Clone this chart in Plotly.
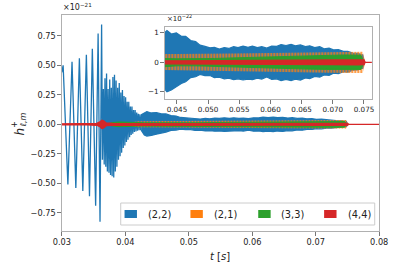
import plotly.graph_objects as go

# ---------------- data (strain in units of 1e-21) ----------------
# (2,2) early large cycles + messy merger part: alternating extremes
t22_osc = [0.03000, 0.03021, 0.03096, 0.03161, 0.03221, 0.03277, 0.03331, 0.03387,
           0.03436, 0.03481, 0.03533, 0.03572, 0.03602, 0.03627,
           0.03640, 0.03655, 0.03668, 0.03680, 0.03693, 0.03705, 0.03718, 0.03730,
           0.03743, 0.03755, 0.03768, 0.03780, 0.03793, 0.03805, 0.03818, 0.03830,
           0.03843, 0.03855, 0.03868, 0.03880, 0.03893, 0.03905, 0.03918, 0.03930,
           0.03943, 0.03955, 0.03968, 0.03980, 0.03993, 0.04005, 0.04018, 0.04030,
           0.04043, 0.04055, 0.04068, 0.04080, 0.04093, 0.04105, 0.04118, 0.04130,
           0.04143, 0.04155, 0.04168, 0.04180, 0.04193, 0.04205, 0.04218, 0.04230,
           0.04243, 0.04255]
h22_osc = [0.44, 0.50, -0.51, 0.53, -0.54, 0.56, -0.565, 0.59,
           -0.61, 0.64, -0.69, 0.77, -0.825, 0.845,
           -0.30, 0.30, -0.34, 0.39, -0.36, 0.43, -0.40, 0.30,
           -0.41, 0.38, -0.43, 0.31, -0.44, 0.40, -0.45, 0.42,
           -0.40, 0.37, -0.36, 0.31, -0.30, 0.35, -0.27, 0.27,
           -0.24, 0.29, -0.20, 0.24, -0.18, 0.23, -0.15, 0.19,
           -0.13, 0.19, -0.11, 0.15, -0.09, 0.15, -0.08, 0.12,
           -0.065, 0.12, -0.06, 0.10, -0.055, 0.09, -0.05, 0.085,
           -0.05, 0.08]

# (2,2) ringdown / post-merger envelope
t22_env = [0.04250, 0.04300, 0.04340, 0.04410, 0.04490, 0.04570, 0.04640, 0.04720,
           0.04800, 0.04870, 0.04950, 0.05030, 0.05100, 0.05180, 0.05260, 0.05330,
           0.05410, 0.05480, 0.05560, 0.05640, 0.05710, 0.05790, 0.05860, 0.05940,
           0.06020, 0.06100, 0.06170, 0.06250, 0.06330, 0.06400, 0.06480, 0.06560,
           0.06630, 0.06710, 0.06790, 0.06860, 0.06940, 0.07010, 0.07090, 0.07170,
           0.07240, 0.07320, 0.07400, 0.07480, 0.07500]
h22_hi = [0.080, 0.100, 0.108, 0.096, 0.100, 0.088, 0.088, 0.074,
          0.070, 0.058, 0.054, 0.049, 0.051, 0.045, 0.050, 0.047,
          0.053, 0.050, 0.055, 0.051, 0.055, 0.050, 0.053, 0.048,
          0.055, 0.054, 0.060, 0.057, 0.061, 0.056, 0.059, 0.053,
          0.056, 0.050, 0.053, 0.046, 0.048, 0.042, 0.043, 0.037,
          0.037, 0.031, 0.030, 0.025, 0.004]
h22_lo = [-0.050, -0.090, -0.100, -0.094, -0.084, -0.072, -0.066, -0.052,
          -0.049, -0.041, -0.045, -0.045, -0.052, -0.050, -0.056, -0.054,
          -0.059, -0.056, -0.060, -0.057, -0.059, -0.054, -0.057, -0.050,
          -0.058, -0.056, -0.062, -0.058, -0.062, -0.057, -0.060, -0.053,
          -0.055, -0.048, -0.050, -0.043, -0.044, -0.037, -0.038, -0.032,
          -0.033, -0.027, -0.026, -0.020, -0.004]

# (2,1) envelope
t21_env = [0.04050, 0.04120, 0.04200, 0.04300, 0.04500, 0.04800, 0.05100, 0.05400,
           0.05700, 0.06000, 0.06300, 0.06600, 0.06900, 0.07200, 0.07480, 0.07520]
h21_hi = [0.000, 0.020, 0.026, 0.028, 0.028, 0.028, 0.029, 0.030,
          0.031, 0.032, 0.033, 0.034, 0.035, 0.036, 0.036, 0.000]
h21_lo = [0.000, -0.020, -0.026, -0.028, -0.028, -0.028, -0.029, -0.030,
          -0.031, -0.032, -0.033, -0.034, -0.035, -0.036, -0.036, 0.000]

# (3,3) envelope
t33_env = [0.03720, 0.03800, 0.03900, 0.04000, 0.04100, 0.04200, 0.04300, 0.04500,
           0.04800, 0.05100, 0.05400, 0.05700, 0.06000, 0.06300, 0.06600, 0.06900,
           0.07200, 0.07450, 0.07500]
h33_hi = [0.004, 0.015, 0.020, 0.020, 0.018, 0.015, 0.013, 0.012,
          0.012, 0.013, 0.015, 0.017, 0.019, 0.021, 0.023, 0.024,
          0.025, 0.024, 0.000]
h33_lo = [-0.004, -0.015, -0.020, -0.020, -0.018, -0.015, -0.013, -0.012,
          -0.012, -0.013, -0.015, -0.017, -0.019, -0.021, -0.023, -0.024,
          -0.025, -0.024, 0.000]

# (4,4) envelope
t44_env = [0.03000, 0.03400, 0.03550, 0.03600, 0.03630, 0.03660, 0.03700, 0.03800,
           0.04000, 0.04300, 0.04600, 0.05000, 0.05500, 0.06000, 0.06500, 0.07000,
           0.07400, 0.07500, 0.07520, 0.08500]
h44_hi = [0.004, 0.005, 0.008, 0.020, 0.035, 0.030, 0.012, 0.008,
          0.006, 0.005, 0.005, 0.005, 0.005, 0.006, 0.007, 0.008,
          0.009, 0.008, 0.000, 0.000]
h44_lo = [-0.004, -0.005, -0.008, -0.020, -0.035, -0.030, -0.012, -0.008,
          -0.006, -0.005, -0.005, -0.005, -0.005, -0.006, -0.007, -0.008,
          -0.009, -0.008, 0.000, 0.000]

labels = ["(2,2)", "(2,1)", "(3,3)", "(4,4)"]
colors = ["#1f77b4", "#ff7f0e", "#2ca02c", "#d62728"]

main_xticks = [0.03, 0.04, 0.05, 0.06, 0.07, 0.08]
main_xtext = ["0.03", "0.04", "0.05", "0.06", "0.07", "0.08"]
main_yticks = [-0.75, -0.5, -0.25, 0.0, 0.25, 0.5, 0.75]
main_ytext = ["\u22120.75", "\u22120.50", "\u22120.25", "0.00", "0.25", "0.50", "0.75"]
ins_xticks = [0.045, 0.050, 0.055, 0.060, 0.065, 0.070, 0.075]
ins_xtext = ["0.045", "0.050", "0.055", "0.060", "0.065", "0.070", "0.075"]
ins_yticks = [-1, 0, 1]
ins_ytext = ["\u22121", "0", "1"]
INSET_SCALE = 10.0  # inset axis in units of 1e-22

W, H = 399, 265
FONT = "DejaVu Sans"


def PX(x):
    return x / W


def PY(y):
    return 1 - y / H


fig = go.Figure()


def band(t, hi, lo, color, xa, ya, scale=1.0, pattern=None, lw=1.0):
    xs = list(t) + list(t)[::-1]
    ys = [v * scale for v in hi] + [v * scale for v in lo][::-1]
    kw = dict(x=xs, y=ys, mode="lines", fill="toself", xaxis=xa, yaxis=ya,
              line=dict(color=color, width=lw), hoverinfo="skip", showlegend=False)
    if pattern:
        kw["fillcolor"] = "rgba(0,0,0,0)"
        kw["fillpattern"] = pattern
    else:
        kw["fillcolor"] = color
    fig.add_trace(go.Scatter(**kw))


orange_pattern = dict(shape="|", size=3, solidity=0.55, fgcolor=colors[1],
                      bgcolor="rgba(0,0,0,0)", fgopacity=1)

for xa, ya, sc in [("x", "y", 1.0), ("x2", "y2", INSET_SCALE)]:
    if xa == "x":
        fig.add_trace(go.Scatter(x=t22_osc, y=h22_osc, mode="lines", xaxis=xa, yaxis=ya,
                                 line=dict(color=colors[0], width=1.3),
                                 hoverinfo="skip", showlegend=False))
    band(t22_env, h22_hi, h22_lo, colors[0], xa, ya, sc, lw=1.2)
    band(t21_env, h21_hi, h21_lo, colors[1], xa, ya, sc, pattern=orange_pattern, lw=0)
    band(t33_env, h33_hi, h33_lo, colors[2], xa, ya, sc, lw=1.0)
    band(t44_env, h44_hi, h44_lo, colors[3], xa, ya, sc, lw=1.3)

axcol = "#b0b0b0"
tickcol = "#555555"
common = dict(showgrid=False, zeroline=False, showline=True, mirror=True,
              linecolor=axcol, linewidth=1, ticks="outside", ticklen=3.5,
              tickwidth=0.8, tickcolor=tickcol, tickmode="array")

fig.update_layout(
    width=W, height=H, autosize=False,
    margin=dict(l=0, r=0, t=0, b=0),
    paper_bgcolor="white", plot_bgcolor="white",
    font=dict(family=FONT, color="#222222"),
    showlegend=False,
    xaxis=dict(domain=[PX(55.3), PX(387.7)], range=[0.03, 0.08], anchor="y",
               tickvals=main_xticks, ticktext=main_xtext,
               tickfont=dict(size=8.2, family=FONT, color="#222"), **common),
    yaxis=dict(domain=[PY(231), PY(15)], range=[-0.904, 0.926], anchor="x",
               tickvals=main_yticks, ticktext=main_ytext,
               tickfont=dict(size=8.2, family=FONT, color="#222"), **common),
    xaxis2=dict(domain=[PX(163), PX(380)], range=[0.04303, 0.07626], anchor="y2",
                tickvals=ins_xticks, ticktext=ins_xtext,
                tickfont=dict(size=7.2, family=FONT, color="#222"), **common),
    yaxis2=dict(domain=[PY(99.3), PY(27)], range=[-1.254, 1.197], anchor="x2",
                tickvals=ins_yticks, ticktext=ins_ytext,
                tickfont=dict(size=7.2, family=FONT, color="#222"), **common),
)

ann = []
ann.append(dict(x=PX(54), y=PY(14), xref="paper", yref="paper", xanchor="left",
                yanchor="bottom", showarrow=False, text="\u00d710<sup>\u221221</sup>",
                font=dict(size=8, family=FONT, color="#222")))
ann.append(dict(x=PX(163), y=PY(25.5), xref="paper", yref="paper", xanchor="left",
                yanchor="bottom", showarrow=False, text="\u00d710<sup>\u221222</sup>",
                font=dict(size=7, family=FONT, color="#222")))
# y-axis label h^+_{l,m} (stacked super/subscript), rotated
ann.append(dict(x=PX(11), y=PY(132), xref="paper", yref="paper", xanchor="center",
                yanchor="middle", showarrow=False, textangle=-90, text="<i>h</i>",
                font=dict(size=12, family=FONT, color="#222")))
ann.append(dict(x=PX(5.5), y=PY(124.5), xref="paper", yref="paper", xanchor="center",
                yanchor="middle", showarrow=False, textangle=-90, text="+",
                font=dict(size=8, family=FONT, color="#222")))
ann.append(dict(x=PX(15), y=PY(120), xref="paper", yref="paper", xanchor="center",
                yanchor="middle", showarrow=False, textangle=-90,
                text="<i>\u2113,m</i>",
                font=dict(size=8, family=FONT, color="#222")))
ann.append(dict(x=PX(221), y=PY(256), xref="paper", yref="paper", xanchor="center",
                yanchor="middle", showarrow=False, text="<i>t</i> [<i>s</i>]",
                font=dict(size=10, family=FONT, color="#222")))

shapes = []
# legend frame
shapes.append(dict(type="rect", xref="paper", yref="paper", x0=PX(117), x1=PX(383),
                   y0=PY(225), y1=PY(203), line=dict(color="#cccccc", width=1),
                   fillcolor="rgba(255,255,255,0.85)", layer="above"))
patch_x = [121, 190, 261, 330]
text_x = [143, 213, 283, 353]
for i in range(4):
    shapes.append(dict(type="rect", xref="paper", yref="paper",
                       x0=PX(patch_x[i]), x1=PX(patch_x[i] + 13),
                       y0=PY(218), y1=PY(210), line=dict(width=0),
                       fillcolor=colors[i], layer="above"))
    ann.append(dict(x=PX(text_x[i]), y=PY(214), xref="paper", yref="paper",
                    xanchor="left", yanchor="middle", showarrow=False, text=labels[i],
                    font=dict(size=9.8, family=FONT, color="#222")))

fig.update_layout(annotations=ann, shapes=shapes)
fig.write_html("out.html",
               config={"displayModeBar": False, "staticPlot": True},
               post_script="document.body.style.margin='0';"
                           "document.body.style.overflow='hidden';")
